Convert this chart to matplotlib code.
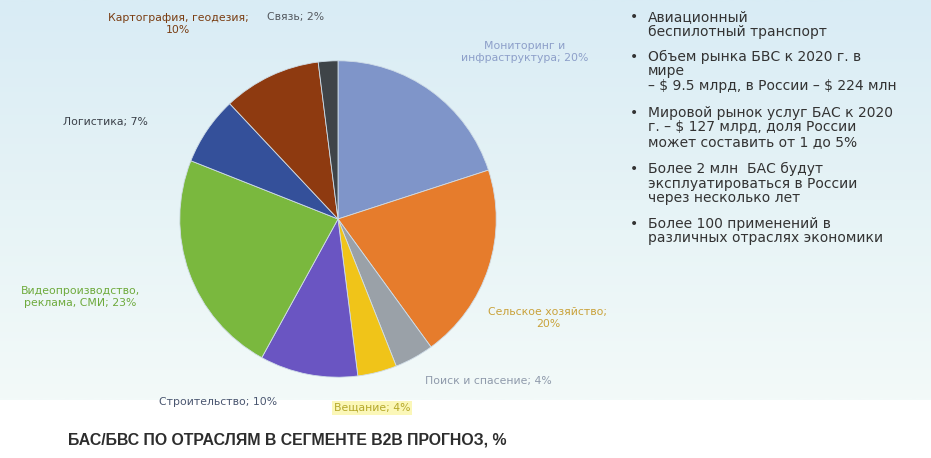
import numpy as np
import matplotlib
matplotlib.use('Agg')
import matplotlib.pyplot as plt
from matplotlib.colors import LinearSegmentedColormap

plt.rcParams['font.family'] = ['DejaVu Sans']

# данные: доли по отраслям (по часовой стрелке от 12 часов)
labels = ['Мониторинг и\nинфраструктура; 20%', 'Сельское хозяйство;\n20%',
          'Поиск и спасение; 4%', 'Вещание; 4%', 'Строительство; 10%',
          'Видеопроизводство,\nреклама, СМИ; 23%', 'Логистика; 7%',
          'Картография, геодезия;\n10%', 'Связь; 2%']
shares = [20, 20, 4, 4, 10, 23, 7, 10, 2]
colors = ['#7f95c9', '#e67c2c', '#9aa1a8', '#f0c419', '#6a55c2',
          '#7ab83e', '#34509a', '#8e3a10', '#3f4448']
label_colors = ['#8d9fc9', '#c9a23a', '#8f9aab', '#b5a82a', '#4a5670',
                '#6eaa3c', '#3a3f48', '#7a3d12', '#555a60']
label_pos = [(525, 52), (548, 318), (488, 381), (372, 408), (218, 402),
             (80, 297), (105, 122), (178, 24), (296, 17)]

bullets = [
    ['Авиационный', 'беспилотный транспорт'],
    ['Объем рынка БВС к 2020 г. в', 'мире', '– \\$ 9.5 млрд, в России – \\$ 224 млн'],
    ['Мировой рынок услуг БАС к 2020', 'г. – \\$ 127 млрд, доля России',
     'может составить от 1 до 5%'],
    ['Более 2 млн  БАС будут', 'эксплуатироваться в России', 'через несколько лет'],
    ['Более 100 применений в', 'различных отраслях экономики'],
]
bullet_y = [17, 57, 113, 169, 224]
title = 'БАС/БВС ПО ОТРАСЛЯМ В СЕГМЕНТЕ B2B ПРОГНОЗ, %'

W, H = 931, 458
fig = plt.figure(figsize=(W / 100, H / 100), dpi=100)

# фон: голубой градиент сверху, белый снизу
bg = fig.add_axes([0, 0, 1, 1])
bg.set_axis_off()
grad = np.linspace(0, 1, 300).reshape(-1, 1)
cmap = LinearSegmentedColormap.from_list('bg', ['#d9ecf5', '#e6f3f6', '#f3faf9'])
bg.imshow(grad, aspect='auto', cmap=cmap, extent=[0, 1, 1 - 400 / H, 1])
bg.set_xlim(0, 1)
bg.set_ylim(0, 1)

# круговая диаграмма
cx, cy, r = 338, 219, 159
ax = fig.add_axes([(cx - r) / W, 1 - (cy + r) / H, 2 * r / W, 2 * r / H])
ax.pie(shares, colors=colors, startangle=90, counterclock=False,
       wedgeprops=dict(linewidth=0.6, edgecolor='#d0dde8'))
ax.set_xlim(-1.005, 1.005)
ax.set_ylim(-1.005, 1.005)
ax.set_aspect('auto')
ax.set_axis_off()


def fx(px):
    return px / W


def fy(py):
    return 1 - py / H


for lab, col, (px, py) in zip(labels, label_colors, label_pos):
    bbox = None
    if lab.startswith('Вещание'):
        bbox = dict(boxstyle='square,pad=0.15', facecolor='#fbf7b8', edgecolor='none')
    fig.text(fx(px), fy(py), lab, ha='center', va='center', fontsize=7.8,
             color=col, linespacing=1.2, bbox=bbox)

# список справа
for lines, y0 in zip(bullets, bullet_y):
    fig.text(fx(634), fy(y0), '•', ha='center', va='center', fontsize=10, color='#333333')
    for k, line in enumerate(lines):
        fig.text(fx(648), fy(y0 + 14.5 * k), line, ha='left', va='center',
                 fontsize=10, color='#333333')

fig.text(fx(68), fy(440), title, ha='left', va='center', fontsize=11.4,
         fontweight='bold', color='#2d2d2d', family='Liberation Sans')

fig.savefig('out.png', dpi=100)
